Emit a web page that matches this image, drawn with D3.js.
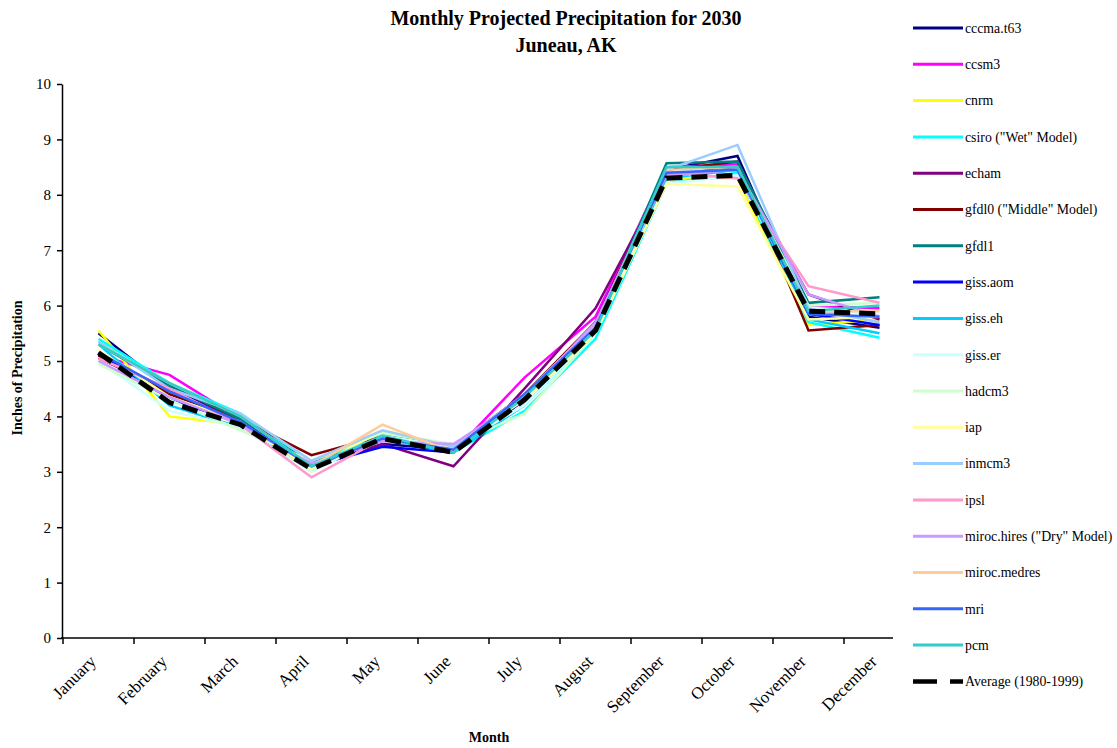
<!DOCTYPE html>
<html>
<head>
<meta charset="utf-8">
<script src="https://cdn.jsdelivr.net/npm/d3@7"></script>
<style>
  body { margin: 0; background: #fff; }
  svg { display: block; font-family: "Liberation Serif", "Times New Roman", serif; }
</style>
</head>
<body>
<svg id="chart" width="1117" height="748"></svg>
<script>
const months = ["January", "February", "March", "April", "May", "June", "July",
  "August", "September", "October", "November", "December"];

const seriesNames = ["cccma.t63", "ccsm3", "cnrm", "csiro (\"Wet\" Model)", "echam",
  "gfdl0 (\"Middle\" Model)", "gfdl1", "giss.aom", "giss.eh", "giss.er", "hadcm3", "iap",
  "inmcm3", "ipsl", "miroc.hires (\"Dry\" Model)", "miroc.medres", "mri", "pcm",
  "Average (1980-1999)"];

const seriesColors = ["#000080", "#ff00ff", "#ffff00", "#00ffff", "#800080", "#800000",
  "#008080", "#0000ff", "#00ccff", "#ccffff", "#ccffcc", "#ffff99", "#99ccff", "#ff99cc",
  "#cc99ff", "#ffcc99", "#3366ff", "#33cccc", "#000000"];

// inches per month, Jan..Dec
const cccma = [5.5, 4.5, 3.95, 3.1, 3.5, 3.4, 4.3, 5.7, 8.45, 8.7, 5.8, 5.6];
const ccsm3 = [5.1, 4.75, 3.95, 3.1, 3.65, 3.35, 4.7, 5.8, 8.5, 8.55, 6.0, 5.95];
const cnrm = [5.55, 4.0, 3.85, 3.0, 3.7, 3.4, 4.4, 5.6, 8.3, 8.3, 5.65, 5.75];
const csiro = [5.4, 4.6, 4.05, 3.15, 3.7, 3.35, 4.1, 5.4, 8.2, 8.4, 5.7, 5.42];
const echam = [5.05, 4.45, 3.95, 3.1, 3.5, 3.1, 4.5, 5.95, 8.35, 8.5, 6.2, 5.75];
const gfdl0 = [5.1, 4.4, 3.95, 3.3, 3.65, 3.45, 4.4, 5.7, 8.45, 8.6, 5.55, 5.65];
const gfdl1 = [5.3, 4.55, 3.95, 3.15, 3.6, 3.4, 4.3, 5.6, 8.57, 8.6, 6.05, 6.15];
const gissAom = [5.15, 4.3, 3.9, 3.1, 3.45, 3.35, 4.3, 5.7, 8.35, 8.5, 5.85, 5.65];
const gissEh = [5.3, 4.2, 3.8, 3.1, 3.6, 3.35, 4.2, 5.5, 8.3, 8.45, 5.75, 5.5];
const gissEr = [5.0, 4.1, 3.8, 3.0, 3.65, 3.45, 4.2, 5.5, 8.2, 8.35, 5.95, 5.85];
const hadcm3 = [4.95, 4.3, 3.75, 3.2, 3.7, 3.5, 4.05, 5.5, 8.4, 8.45, 6.0, 6.05];
const iap = [5.2, 4.35, 3.9, 3.05, 3.75, 3.45, 4.3, 5.5, 8.2, 8.15, 5.75, 5.8];
const inmcm3 = [5.35, 4.5, 4.05, 3.2, 3.75, 3.45, 4.4, 5.65, 8.45, 8.9, 5.95, 5.7];
const ipsl = [5.05, 4.5, 3.85, 2.9, 3.6, 3.4, 4.4, 5.6, 8.4, 8.3, 6.35, 6.05];
const mirocHires = [5.0, 4.35, 3.85, 3.15, 3.55, 3.5, 4.35, 5.7, 8.35, 8.45, 6.2, 5.8];
const mirocMedres = [5.3, 4.6, 4.0, 3.1, 3.85, 3.35, 4.35, 5.6, 8.45, 8.5, 5.9, 5.9];
const mri = [5.15, 4.45, 3.9, 3.1, 3.6, 3.4, 4.4, 5.6, 8.4, 8.45, 5.85, 5.8];
const pcm = [5.3, 4.6, 4.0, 3.1, 3.65, 3.35, 4.35, 5.55, 8.5, 8.5, 5.9, 6.0];
const average = [5.15, 4.25, 3.85, 3.05, 3.6, 3.35, 4.3, 5.55, 8.3, 8.35, 5.9, 5.85];

const yTicks = [0, 1, 2, 3, 4, 5, 6, 7, 8, 9, 10];

const allValues = [cccma, ccsm3, cnrm, csiro, echam, gfdl0, gfdl1, gissAom, gissEh, gissEr,
  hadcm3, iap, inmcm3, ipsl, mirocHires, mirocMedres, mri, pcm, average];

const series = seriesNames.map((name, i) => ({
  name: name,
  color: seriesColors[i],
  dashed: i === seriesNames.length - 1,
  values: allValues[i]
}));

const svg = d3.select("#chart");

const x = d3.scaleBand().domain(months).range([63, 915]).paddingInner(0).paddingOuter(0);
const y = d3.scaleLinear().domain([0, 10]).range([638, 84]);

// title
const title = svg.append("g")
  .attr("font-weight", "bold")
  .attr("font-size", 20)
  .attr("text-anchor", "middle");
title.append("text").attr("x", 566).attr("y", 25).text("Monthly Projected Precipitation for 2030");
title.append("text").attr("x", 566).attr("y", 52).text("Juneau, AK");

// y axis
const yAxis = svg.append("g")
  .attr("transform", "translate(62,0)")
  .call(d3.axisLeft(y).tickValues(yTicks).tickSize(5).tickSizeOuter(0).tickPadding(6));
yAxis.select(".domain").attr("stroke", "#000").attr("stroke-width", 1.5);
yAxis.selectAll(".tick line").attr("stroke-width", 1.5);
yAxis.selectAll(".tick text")
  .attr("font-family", "Liberation Serif")
  .attr("font-size", 15)
  .attr("fill", "#000");

// x axis: ticks on category boundaries, labels slanted
const xAxis = svg.append("g")
  .attr("transform", "translate(0,638)")
  .call(d3.axisBottom(x).tickSize(6).tickSizeOuter(0));
xAxis.select(".domain").remove();
xAxis.selectAll(".tick line")
  .attr("transform", `translate(${-x.bandwidth() / 2},0)`)
  .attr("stroke-width", 1.5);
xAxis.selectAll(".tick text")
  .attr("font-family", "Liberation Serif")
  .attr("font-size", 17)
  .attr("fill", "#000")
  .attr("text-anchor", "end")
  .attr("transform", "translate(-10,16) rotate(-45)")
  .attr("dy", "0.7em")
  .attr("y", 0)
  .attr("x", 0);
svg.append("line")
  .attr("x1", 61).attr("x2", 893)
  .attr("y1", 638).attr("y2", 638)
  .attr("stroke", "#000").attr("stroke-width", 1.5);

// axis titles
svg.append("text")
  .attr("transform", "translate(22,368) rotate(-90)")
  .attr("text-anchor", "middle")
  .attr("font-weight", "bold")
  .attr("font-size", 14)
  .text("Inches of Precipitation");
svg.append("text")
  .attr("x", 489).attr("y", 742)
  .attr("text-anchor", "middle")
  .attr("font-weight", "bold")
  .attr("font-size", 14)
  .text("Month");

// lines
const line = d3.line()
  .x((d, i) => x(months[i]) + x.bandwidth() / 2)
  .y(d => y(d));

svg.append("g")
  .attr("fill", "none")
  .selectAll("path")
  .data(series)
  .join("path")
  .attr("d", d => line(d.values))
  .attr("stroke", d => d.color)
  .attr("stroke-width", d => d.dashed ? 5 : 2.5)
  .attr("stroke-dasharray", d => d.dashed ? "16,9" : null)
  .attr("stroke-linejoin", "miter");

// legend
const legend = svg.append("g")
  .selectAll("g")
  .data(series)
  .join("g")
  .attr("transform", (d, i) => `translate(913,${28 + i * 36.3})`);

legend.append("line")
  .attr("x1", 0).attr("x2", 50)
  .attr("stroke", d => d.color)
  .attr("stroke-width", d => d.dashed ? 4.5 : 3)
  .attr("stroke-dasharray", d => d.dashed ? "24,13" : null);

legend.append("text")
  .attr("x", 52)
  .attr("dy", "0.35em")
  .attr("font-size", 13.8)
  .text(d => d.name);
</script>
</body>
</html>
